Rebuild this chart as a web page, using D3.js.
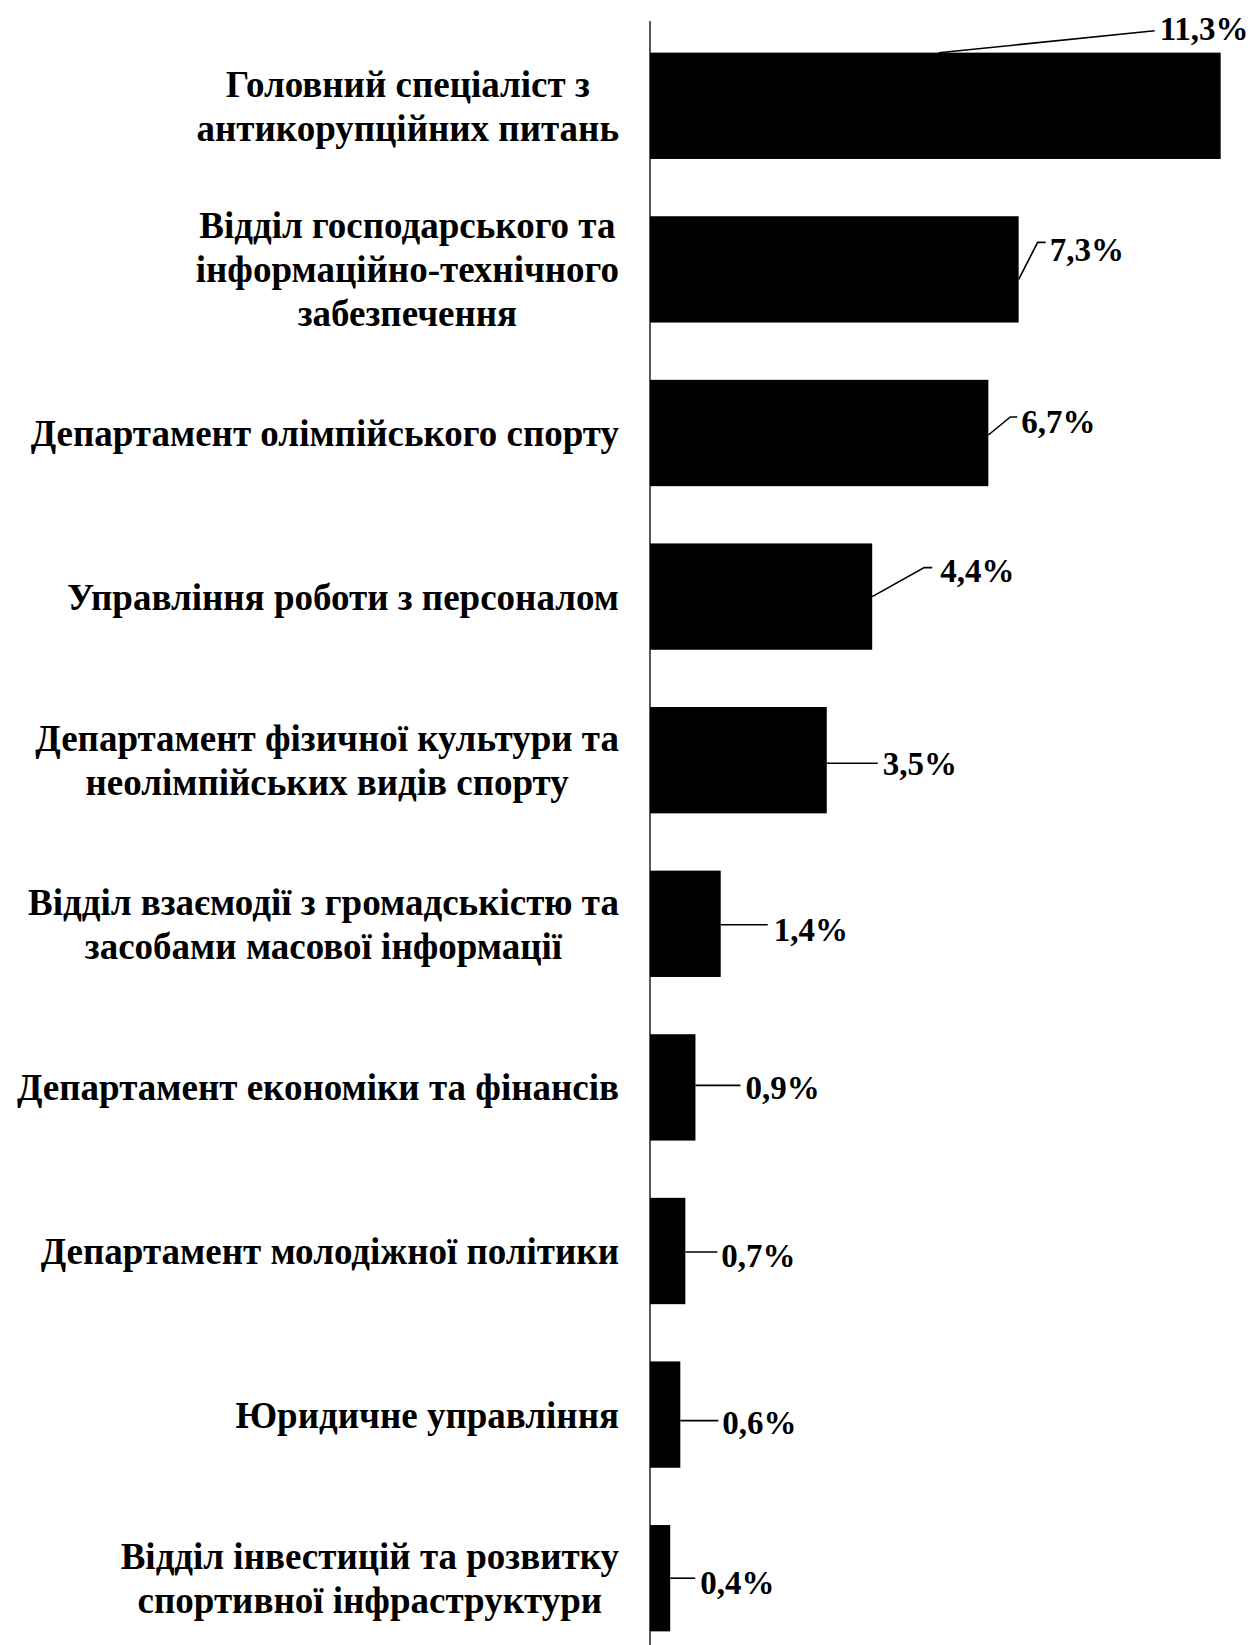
<!DOCTYPE html>
<html><head><meta charset="utf-8">
<script src="https://cdn.jsdelivr.net/npm/d3@7"></script>
<style>body{margin:0;background:#fff}svg{display:block}</style>
</head><body><svg id="c" width="1255" height="1645"></svg>
<script>
// ---- data ----
const categories = [
  ["Головний спеціаліст з", "антикорупційних питань"],
  ["Відділ господарського та", "інформаційно-технічного", "забезпечення"],
  ["Департамент олімпійського спорту"],
  ["Управління роботи з персоналом"],
  ["Департамент фізичної культури та", "неолімпійських видів спорту"],
  ["Відділ взаємодії з громадськістю та", "засобами масової інформації"],
  ["Департамент економіки та фінансів "],
  ["Департамент молодіжної політики"],
  ["Юридичне управління"],
  ["Відділ інвестицій та розвитку", "спортивної інфраструктури"]
];
const values = [11.3, 7.3, 6.7, 4.4, 3.5, 1.4, 0.9, 0.7, 0.6, 0.4];
const valueLabels = ["11,3%", "7,3%", "6,7%", "4,4%", "3,5%", "1,4%", "0,9%", "0,7%", "0,6%", "0,4%"];

// ---- layout (leader lines / label offsets relative to bar end) ----
const leaderPts = [
  [[-282, -53], [-66, -75]],
  [[0, 10], [19, -27], [27, -27]],
  [[0, 2], [22, -16], [29, -16]],
  [[0, 0], [52, -29], [60, -29]],
  [[0, 3], [51, 3]],
  [[0, 1], [47, 1]],
  [[0, -2], [45, -2]],
  [[0, 1], [32, 1]],
  [[0, 6], [38, 6]],
  [[0, 0], [25, 0]]
];
const labelOff = [[-61, -77], [31, -20], [33, -12], [68, -26], [56, 3], [53, 6], [50, 0], [36, 4], [42, 8], [30, 4]];

const svg = d3.select("#c");
const x = d3.scaleLinear().domain([0, 12.4]).range([650, 650 + 12.4 * 50.5]);
const y = d3.scaleBand().domain(d3.range(values.length)).range([24, 1660])
  .paddingInner(0.35).paddingOuter(0.175);

// bars
svg.append("g").selectAll("rect").data(values).join("rect")
  .attr("x", x(0)).attr("y", (d, i) => y(i))
  .attr("width", d => x(d) - x(0)).attr("height", y.bandwidth())
  .attr("fill", "#000");

// axis
const ax = svg.append("g").attr("transform", `translate(${x(0)},0)`)
  .call(d3.axisLeft(y).tickSize(0).tickFormat(""));
ax.select(".domain").attr("stroke", "#000").attr("stroke-width", 1.3)
  .attr("d", `M0,21V1645`);

// category labels
const rightEdge = 619, lineH = 44;
const lg = svg.append("g").attr("font-family", "'Liberation Serif','Times New Roman',serif")
  .attr("font-weight", "bold").attr("font-size", 37).attr("fill", "#000");
categories.forEach((lines, i) => {
  const yc = y(i) + y.bandwidth() / 2;
  const t = lg.append("text").attr("text-anchor", "middle");
  lines.forEach((ln, k) => {
    t.append("tspan").text(ln)
      .attr("y", yc + (k - (lines.length - 1) / 2) * lineH).attr("dy", "0.35em");
  });
  let maxW = 0;
  t.selectAll("tspan").each(function () { maxW = Math.max(maxW, this.getComputedTextLength()); });
  t.selectAll("tspan").attr("x", rightEdge - maxW / 2);
});

// value labels with leader lines
const vg = svg.append("g");
values.forEach((v, i) => {
  const x0 = x(v), yc = y(i) + y.bandwidth() / 2;
  const pts = leaderPts[i].map(p => [x0 + p[0], yc + p[1]]);
  vg.append("path").attr("d", d3.line()(pts))
    .attr("fill", "none").attr("stroke", "#000").attr("stroke-width", 1.6);
  vg.append("text").text(valueLabels[i])
    .attr("x", x0 + labelOff[i][0]).attr("y", yc + labelOff[i][1]).attr("dy", "0.35em")
    .attr("font-family", "'Liberation Serif','Times New Roman',serif")
    .attr("font-weight", "bold").attr("font-size", 33).attr("fill", "#000");
});
</script></body></html>
